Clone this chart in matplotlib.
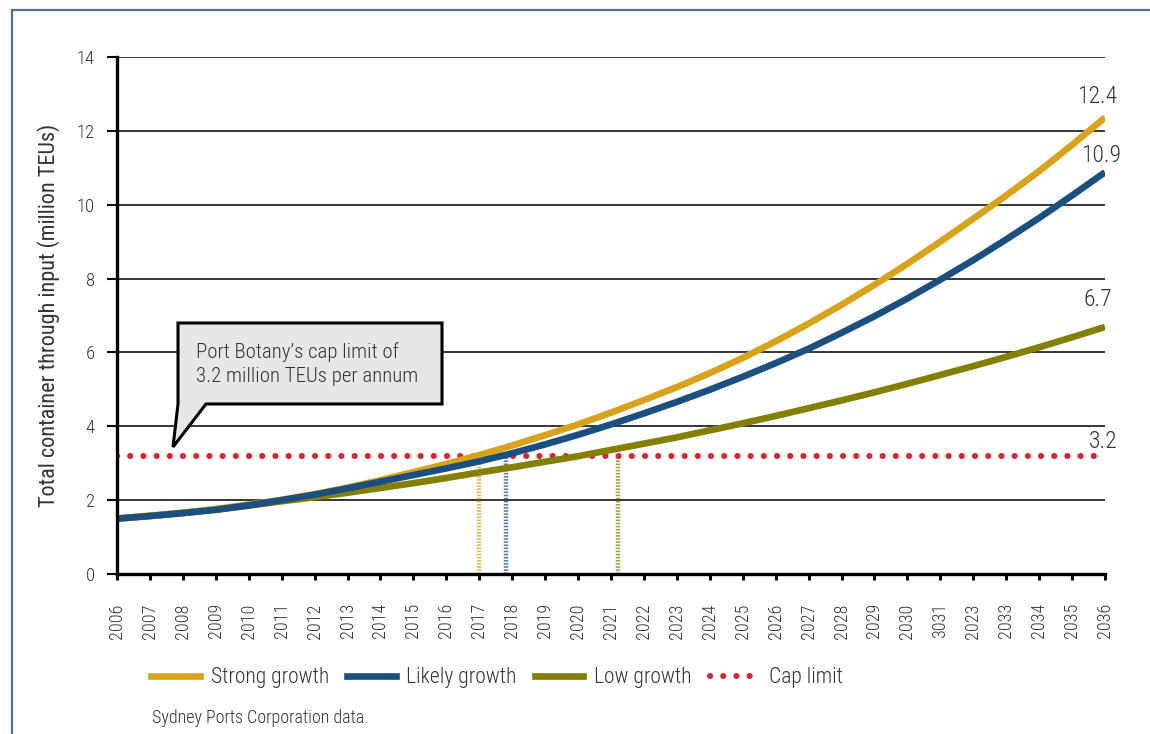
import matplotlib
matplotlib.use('Agg')
import matplotlib.pyplot as plt
from matplotlib.lines import Line2D
from matplotlib.patches import Rectangle, Polygon

plt.rcParams['font.family'] = ['Roboto Condensed', 'DejaVu Sans']
plt.rcParams['font.weight'] = 'light'

# ---- data ----
years = list(range(2006, 2037))
year_labels = [str(y) for y in years]
year_labels[25] = '3031'   # typos kept from the original
year_labels[26] = '2023'

strong = [1.50, 1.58, 1.66, 1.76, 1.88, 2.01, 2.16, 2.34, 2.54, 2.76, 2.98,
          3.22, 3.48, 3.76, 4.05, 4.37, 4.71, 5.06, 5.44, 5.85, 6.30, 6.78,
          7.29, 7.83, 8.40, 9.00, 9.62, 10.25, 10.91, 11.62, 12.36]
likely = [1.50, 1.57, 1.65, 1.74, 1.86, 2.00, 2.15, 2.32, 2.50, 2.68, 2.86,
          3.05, 3.27, 3.51, 3.77, 4.05, 4.35, 4.66, 4.99, 5.34, 5.71, 6.10,
          6.53, 6.98, 7.46, 7.97, 8.50, 9.06, 9.64, 10.25, 10.88]
low = [1.50, 1.57, 1.65, 1.74, 1.85, 1.97, 2.08, 2.20, 2.33, 2.46, 2.60,
       2.75, 2.89, 3.04, 3.19, 3.36, 3.53, 3.70, 3.89, 4.08, 4.28, 4.49,
       4.70, 4.92, 5.15, 5.39, 5.63, 5.88, 6.14, 6.41, 6.69]
cap = 3.2
cap_years = [2017.0, 2017.8, 2021.2]   # where each scenario reaches the cap
end_labels = ['12.4', '10.9', '6.7', '3.2']

C_STRONG = '#D9A21B'
C_LIKELY = '#1B4F80'
C_LOW = '#857F00'
C_CAP = '#D7262F'
TXT = '#333333'

fig = plt.figure(figsize=(11.5, 7.34), dpi=100)
ax = fig.add_axes([117/1150, 1-574/734, 988/1150, 517/734])

# frame around the figure
fig.patches.append(Rectangle((12/1150, -0.1), 1.2, 1-10/734+0.1,
                             transform=fig.transFigure, fill=False,
                             edgecolor='#4A709C', linewidth=1.6))

for yv in range(2, 15, 2):
    ax.axhline(yv, color='black', linewidth=1.1, zorder=1)

# drop lines to the cap crossings
for xv, c in zip(cap_years, [C_STRONG, C_LIKELY, C_LOW]):
    ax.plot([xv, xv], [0, cap], color=c, linewidth=3.2, alpha=0.75,
            linestyle=(0, (0.35, 0.35)), solid_capstyle='butt', zorder=2)

ax.plot(years, [cap] * len(years), color=C_CAP, linewidth=4.4,
        linestyle=(0, (0.01, 2.15)), dash_capstyle='round', zorder=3)
ax.plot(years, low, color=C_LOW, linewidth=4.8, solid_capstyle='butt', zorder=4)
ax.plot(years, strong, color=C_STRONG, linewidth=4.8, solid_capstyle='butt', zorder=5)
ax.plot(years, likely, color=C_LIKELY, linewidth=4.8, solid_capstyle='butt', zorder=6)

ax.set_xlim(2006, 2036)
ax.set_ylim(0, 14)
ax.set_yticks(range(0, 15, 2))
ax.set_xticks(years)
ax.set_xticklabels(year_labels, rotation=90)
ax.tick_params(axis='y', length=7, width=1.5, colors='black', labelcolor=TXT,
               labelsize=13.5, pad=9)
ax.tick_params(axis='x', length=4, width=2.2, colors='black', labelcolor=TXT,
               labelsize=13, pad=17)
for s in ['top', 'right']:
    ax.spines[s].set_visible(False)
for s in ['left', 'bottom']:
    ax.spines[s].set_linewidth(2.4)
    ax.spines[s].set_zorder(7)
ax.set_ylabel('Total container through input (million TEUs)', fontsize=16,
              color=TXT, labelpad=12)

# end-of-line values
ends = [strong[-1], likely[-1], low[-1], cap]
offs = [(-0.23, 0.58), (-0.12, 0.44), (-0.23, 0.73), (-0.06, 0.40)]
for lab, yv, (dx, dy) in zip(end_labels, ends, offs):
    ax.text(years[-1] + dx, yv + dy, lab, fontsize=17, color=TXT,
            ha='center', va='center', clip_on=False)

# callout box
pts = [(178, 323), (442, 323), (442, 404), (206, 404), (173, 447), (178, 404)]
callout = Polygon([(x/1150, 1 - y/734) for x, y in pts], closed=True,
                  transform=fig.transFigure, facecolor='#E6E7E8',
                  edgecolor='black', linewidth=2.2, zorder=8)
fig.patches.append(callout)
fig.text(196/1150, 1 - 364/734, 'Port Botany\u2019s cap limit of\n3.2 million TEUs per annum',
         fontsize=15, color=TXT, ha='left', va='center', linespacing=1.3,
         zorder=9)

# legend
handles = [Line2D([], [], color=C_STRONG, linewidth=4.8),
           Line2D([], [], color=C_LIKELY, linewidth=4.8),
           Line2D([], [], color=C_LOW, linewidth=4.8),
           Line2D([], [], color=C_CAP, linewidth=4.4,
                  linestyle=(0, (0.01, 2.15)), dash_capstyle='round')]
fig.legend(handles, ['Strong growth', 'Likely growth', 'Low growth', 'Cap limit'],
           loc='center left', bbox_to_anchor=(132/1150, 1 - 678/734), ncol=4,
           frameon=False, fontsize=15.5, handlelength=2.25, handletextpad=0.5,
           columnspacing=0.85, labelcolor=TXT)

fig.text(152/1150, 1 - 718/734, 'Sydney Ports Corporation data.', fontsize=13,
         color=TXT, ha='left', va='center')

fig.savefig('out.png', dpi=100)
